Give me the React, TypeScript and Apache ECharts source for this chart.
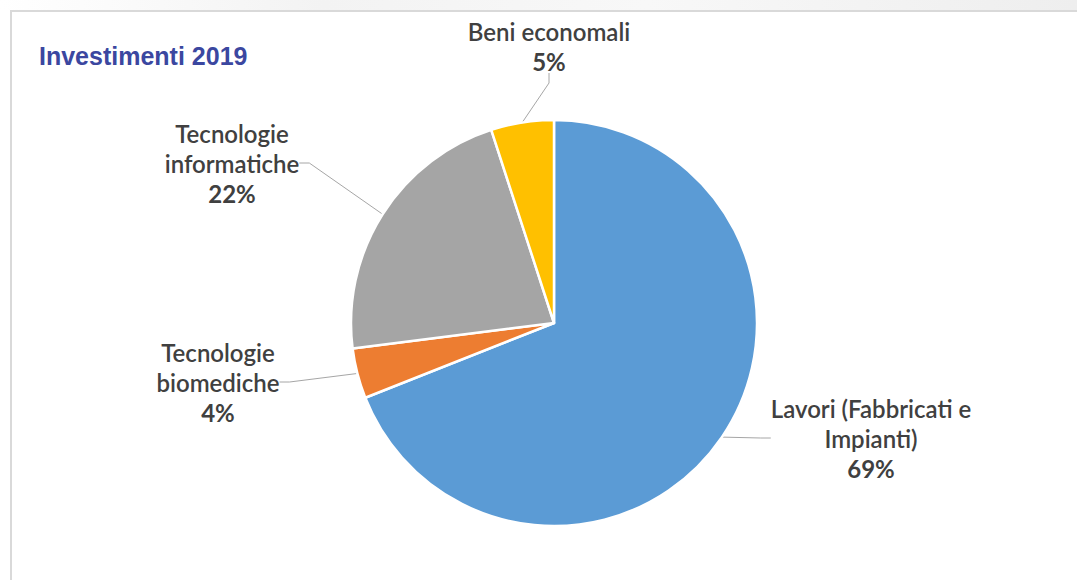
import React, { useEffect, useRef } from "react";
import * as echarts from "echarts";

const titleText = "Investimenti 2019";
const categories = [
  "Lavori (Fabbricati e\nImpianti)",
  "Tecnologie\nbiomediche",
  "Tecnologie\ninformatiche",
  "Beni economali",
];
const values = [69, 4, 22, 5];
const colors = ["#5B9BD5", "#ED7D31", "#A5A5A5", "#FFC000"];
const labelCenters = [
  [871, 438],
  [218, 382],
  [232, 163],
  [549, 46],
];

export default function App() {
  const ref = useRef<HTMLDivElement>(null);
  useEffect(() => {
    document.body.style.margin = "0";
    const chart = echarts.init(ref.current!, null, { renderer: "svg" });
    const total = values.reduce((a, b) => a + b, 0);
    chart.setOption({
      animation: false,
      backgroundColor: "#ffffff",
      graphic: [
        {
          type: "rect",
          shape: { x: 0, y: 0, width: 1077, height: 10 },
          style: {
            fill: new echarts.graphic.LinearGradient(0, 0, 1, 0, [
              { offset: 0, color: "#ffffff" },
              { offset: 0.3, color: "#f3f3f3" },
              { offset: 0.6, color: "#f8f8f8" },
              { offset: 1, color: "#eeeeee" },
            ]),
          },
          silent: true,
        },
        {
          type: "rect",
          shape: { x: 11, y: 11, width: 1080, height: 600 },
          style: { fill: "none", stroke: "#d9d9d9", lineWidth: 2 },
          silent: true,
        },
      ],
      title: {
        text: titleText,
        left: 34,
        top: 38,
        textStyle: {
          fontFamily: "Liberation Sans, Arial, sans-serif",
          fontSize: 25,
          fontWeight: "bold",
          color: "#3B47A0",
        },
      },
      series: [
        {
          type: "pie",
          center: [554, 323],
          radius: 203,
          startAngle: 90,
          clockwise: true,
          avoidLabelOverlap: false,
          data: categories.map((c, i) => ({
            name: c,
            value: values[i],
            itemStyle: { color: colors[i] },
          })),
          itemStyle: { borderColor: "#ffffff", borderWidth: 2.5 },
          label: {
            show: true,
            position: "outside",
            align: "center",
            formatter: (p: any) =>
              `{n|${p.name}}\n{p|${Math.round((p.value / total) * 100)}%}`,
            rich: {
              n: {
                fontFamily: "Lato, sans-serif",
                fontSize: 24,
                fontWeight: 600,
                color: "#404040",
                lineHeight: 30,
                align: "center",
              },
              p: {
                fontFamily: "Lato, sans-serif",
                fontSize: 24,
                fontWeight: "bold",
                color: "#404040",
                lineHeight: 30,
                align: "center",
              },
            },
          },
          labelLine: {
            show: true,
            length: 10,
            length2: 10,
            lineStyle: { color: "#a6a6a6", width: 1 },
          },
          labelLayout: (params: any) => {
            const c = labelCenters[params.dataIndex];
            return {
              x: c[0],
              y: c[1],
              align: "center",
              verticalAlign: "middle",
            };
          },
        },
      ],
    });
    return () => chart.dispose();
  }, []);
  return (
    <div
      ref={ref}
      style={{ position: "fixed", left: 0, top: 0, width: 1077, height: 580 }}
    />
  );
}
